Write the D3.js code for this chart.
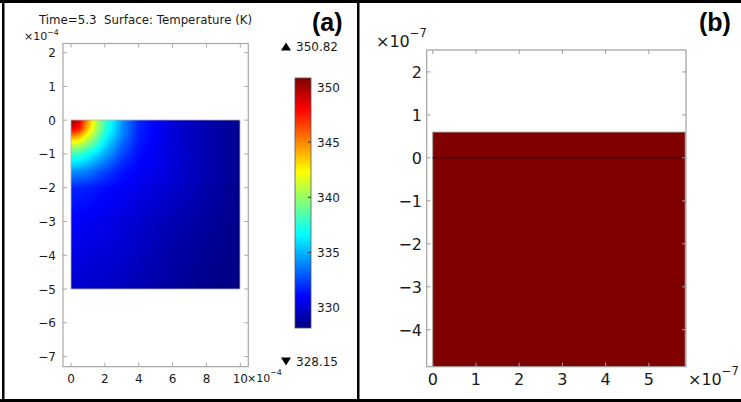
<!DOCTYPE html>
<html><head><meta charset="utf-8">
<script src="https://cdn.jsdelivr.net/npm/d3@7"></script>
<style>
html,body{margin:0;padding:0;background:#fff;}
svg{display:block;}
text{font-family:"DejaVu Sans",sans-serif;fill:#1a1a1a;}
</style></head>
<body>
<svg id="chart" width="741" height="402"></svg>
<script>
// ---------- DATA ----------
// Panel (a): temperature field (K) on a grid, x and depth in units of 1e-4 m
const heatX = [0, 0.5, 1, 1.5, 2, 3, 4, 6, 8, 10];
const heatY = [0, -0.25, -0.5, -0.75, -1, -1.5, -2, -3, -4, -5];
const heatT = [
  [350.8, 348.7, 344.7, 340.9, 338.1, 334.4, 331.8, 330.1, 329.2, 328.5],
  [348.7, 347.5, 343.7, 340.5, 337.9, 334.2, 331.7, 330.1, 329.2, 328.5],
  [344.7, 343.7, 341.3, 339.3, 336.9, 333.9, 331.6, 330.1, 329.2, 328.5],
  [340.9, 340.5, 339.3, 337.6, 335.9, 333.2, 331.4, 330.1, 329.2, 328.5],
  [338.1, 337.9, 336.9, 335.9, 334.8, 332.6, 331.2, 330.2, 329.2, 328.5],
  [334.4, 334.2, 333.9, 333.2, 332.6, 331.4, 330.9, 330.1, 329.2, 328.5],
  [331.8, 331.7, 331.6, 331.4, 331.2, 330.9, 330.5, 329.9, 329.1, 328.4],
  [330.9, 330.8, 330.7, 330.6, 330.5, 330.2, 329.9, 329.3, 328.8, 328.4],
  [330.3, 330.3, 330.2, 330.2, 330.1, 329.9, 329.6, 329.0, 328.6, 328.3],
  [329.9, 329.9, 329.8, 329.8, 329.7, 329.5, 329.3, 328.8, 328.4, 328.15]
];
const tempMin = 328.15, tempMax = 350.82;
const colorTicks = [330, 335, 340, 345, 350];
const jetStops = [0, 0.125, 0.375, 0.625, 0.875, 1];
const jetColors = ["#00007f", "#0000ff", "#00ffff", "#ffff00", "#ff0000", "#7f0000"];
const xTicksA = [0, 2, 4, 6, 8, 10];
const yTicksA = [2, 1, 0, -1, -2, -3, -4, -5, -6, -7];
const titleA = "Time=5.3  Surface: Temperature (K)";
// Panel (b): domain (units of 1e-7 m)
const xTicksB = [0, 1, 2, 3, 4, 5];
const yTicksB = [2, 1, 0, -1, -2, -3, -4];
const blockX = [0, 5.84];
const blockY = [-5, 0.6];
const interfaceY = 0;

// ---------- DRAW ----------
const svg = d3.select("#chart");
const fmt = v => (v < 0 ? "\u2212" + Math.abs(v) : String(v));

// Panel (a) scales
const xA = d3.scaleLinear().domain([-0.47, 10.47]).range([63, 248.3]);
const yA = d3.scaleLinear().domain([2.27, -7.3]).range([43.5, 366.7]);
const jet = d3.scaleLinear().domain(jetStops).range(jetColors).interpolate(d3.interpolateRgb).clamp(true);
const tNorm = d3.scaleLinear().domain([tempMin, tempMax]);

// heatmap via canvas image
(function(){
  const x0 = Math.round(xA(0)), x1 = Math.round(xA(10));
  const y0 = Math.round(yA(0)), y1 = Math.round(yA(-5));
  const w = x1 - x0, h = y1 - y0;
  const cv = document.createElement("canvas");
  cv.width = w; cv.height = h;
  const ctx = cv.getContext("2d");
  const img = ctx.createImageData(w, h);
  const negY = heatY.map(v => -v);
  function idx(arr, v){ let i = d3.bisectRight(arr, v) - 1; return Math.max(0, Math.min(arr.length - 2, i)); }
  for (let py = 0; py < h; py++) {
    const dy = -yA.invert(y0 + py + 0.5);
    const j = idx(negY, dy);
    const fy = Math.max(0, Math.min(1, (dy - negY[j]) / (negY[j+1] - negY[j])));
    for (let px = 0; px < w; px++) {
      const dx = xA.invert(x0 + px + 0.5);
      const i = idx(heatX, dx);
      const fx = Math.max(0, Math.min(1, (dx - heatX[i]) / (heatX[i+1] - heatX[i])));
      const t = heatT[j][i]*(1-fx)*(1-fy) + heatT[j][i+1]*fx*(1-fy) + heatT[j+1][i]*(1-fx)*fy + heatT[j+1][i+1]*fx*fy;
      const c = d3.rgb(jet(tNorm(t)));
      const k = (py*w + px)*4;
      img.data[k] = c.r; img.data[k+1] = c.g; img.data[k+2] = c.b; img.data[k+3] = 255;
    }
  }
  ctx.putImageData(img, 0, 0);
  svg.append("image").attr("x", x0).attr("y", y0).attr("width", w).attr("height", h)
    .attr("preserveAspectRatio", "none").attr("href", cv.toDataURL());
  svg.append("rect").attr("x", x0).attr("y", y0).attr("width", w).attr("height", h)
    .attr("fill", "none").attr("stroke", "#b0b0b0").attr("stroke-width", 0.8);
})();

function frame(xs, ys, ticksX, ticksY, tl, color){
  const [l, r] = xs.range(), [t, b] = ys.range();
  const g = svg.append("g");
  g.append("rect").attr("x", l).attr("y", t).attr("width", r - l).attr("height", b - t)
    .attr("fill", "none").attr("stroke", color).attr("stroke-width", 1.2);
  ticksX.forEach(v => {
    const x = xs(v);
    g.append("line").attr("x1", x).attr("x2", x).attr("y1", t).attr("y2", t + tl).attr("stroke", color);
    g.append("line").attr("x1", x).attr("x2", x).attr("y1", b).attr("y2", b - tl).attr("stroke", color);
  });
  ticksY.forEach(v => {
    const y = ys(v);
    g.append("line").attr("x1", l).attr("x2", l + tl).attr("y1", y).attr("y2", y).attr("stroke", color);
    g.append("line").attr("x1", r).attr("x2", r - tl).attr("y1", y).attr("y2", y).attr("stroke", color);
  });
}
frame(xA, yA, xTicksA, yTicksA, 4, "#a8a8a8");

svg.append("g").selectAll("text").data(yTicksA).join("text")
  .attr("x", 56).attr("y", d => yA(d) + 4.5).attr("text-anchor", "end")
  .attr("font-size", 12).text(fmt);
svg.append("g").selectAll("text").data(xTicksA).join("text")
  .attr("x", d => xA(d)).attr("y", 383).attr("text-anchor", "middle")
  .attr("font-size", 12).text(fmt);
function expo(x, y, fs, exp, up){
  const t = svg.append("text").attr("x", x).attr("y", y).attr("font-size", fs);
  t.append("tspan").text("\u00d710");
  t.append("tspan").attr("dy", -fs*(up || 0.62)).attr("font-size", fs*0.72).text("\u2212" + exp);
}
expo(24, 40, 11, 4, 0.5);
expo(247, 382, 11, 4);
svg.append("text").attr("x", 39).attr("y", 24).attr("font-size", 11.8)
  .style("white-space", "pre").text(titleA);
svg.append("text").attr("x", 312).attr("y", 31).attr("font-size", 25)
  .attr("font-weight", "bold").style("font-family", "'Liberation Sans',Arial,sans-serif").style("fill", "#000").text("(a)");

// colorbar
const cY = d3.scaleLinear().domain([tempMin, tempMax]).range([328, 78]);
const cX = 295, cW = 16;
const defs = svg.append("defs");
const grad = defs.append("linearGradient").attr("id", "jetgrad").attr("x1", 0).attr("x2", 0).attr("y1", 1).attr("y2", 0);
grad.selectAll("stop").data(jetStops).join("stop")
  .attr("offset", d => d).attr("stop-color", (d, i) => jetColors[i]);
svg.append("rect").attr("x", cX).attr("y", cY(tempMax)).attr("width", cW).attr("height", cY(tempMin) - cY(tempMax))
  .attr("fill", "url(#jetgrad)").attr("stroke", "#555").attr("stroke-width", 0.8);
svg.append("g").selectAll("line").data(colorTicks).join("line")
  .attr("x1", cX + cW - 3).attr("x2", cX + cW).attr("y1", d => cY(d)).attr("y2", d => cY(d))
  .attr("stroke", "#333");
svg.append("g").selectAll("text").data(colorTicks).join("text")
  .attr("x", 317).attr("y", d => cY(d) + 4.5).attr("font-size", 12).text(d => d);
svg.append("path").attr("d", "M281,50.5L291,50.5L286,42.5Z").attr("fill", "#000");
svg.append("text").attr("x", 296).attr("y", 51).attr("font-size", 12).text(tempMax.toFixed(2));
svg.append("path").attr("d", "M281,357.5L291,357.5L286,365.5Z").attr("fill", "#000");
svg.append("text").attr("x", 296).attr("y", 366).attr("font-size", 12).text(tempMin.toFixed(2));

// Panel (b)
const xB = d3.scaleLinear().domain([-0.14, 5.86]).range([426.7, 686]);
const yB = d3.scaleLinear().domain([2.51, -4.86]).range([50, 366.7]);
defs.append("clipPath").attr("id", "clipB").append("rect")
  .attr("x", 426.7).attr("y", 50).attr("width", 686 - 426.7).attr("height", 366.7 - 50);
const gb = svg.append("g").attr("clip-path", "url(#clipB)");
gb.append("rect").attr("x", xB(blockX[0])).attr("y", yB(blockY[1]))
  .attr("width", xB(blockX[1]) - xB(blockX[0])).attr("height", yB(blockY[0]) - yB(blockY[1]))
  .attr("fill", "#800000").attr("stroke", "#9a9a9a").attr("stroke-width", 0.8);
gb.append("line").attr("x1", xB(blockX[0])).attr("x2", xB(blockX[1]))
  .attr("y1", yB(interfaceY)).attr("y2", yB(interfaceY)).attr("stroke", "#2a0000").attr("stroke-width", 1);
frame(xB, yB, xTicksB, yTicksB, 4, "#a0a0a0");
svg.append("g").selectAll("text").data(yTicksB).join("text")
  .attr("x", 422).attr("y", d => yB(d) + 6).attr("text-anchor", "end")
  .attr("font-size", 16).text(fmt);
svg.append("g").selectAll("text").data(xTicksB).join("text")
  .attr("x", d => xB(d)).attr("y", 385).attr("text-anchor", "middle")
  .attr("font-size", 16).text(fmt);
expo(376, 47, 16, 7);
expo(688, 385, 16, 7);
svg.append("text").attr("x", 699).attr("y", 31).attr("font-size", 25)
  .attr("font-weight", "bold").style("font-family", "'Liberation Sans',Arial,sans-serif").style("fill", "#000").text("(b)");

// outer borders
svg.append("rect").attr("x", 0).attr("y", 0).attr("width", 741).attr("height", 3).attr("fill", "#000");
svg.append("rect").attr("x", 2).attr("y", 0).attr("width", 2.5).attr("height", 402).attr("fill", "#000");
svg.append("rect").attr("x", 357).attr("y", 0).attr("width", 2.5).attr("height", 402).attr("fill", "#000");
svg.append("rect").attr("x", 0).attr("y", 399).attr("width", 741).attr("height", 3).attr("fill", "#000");
</script>
</body></html>
